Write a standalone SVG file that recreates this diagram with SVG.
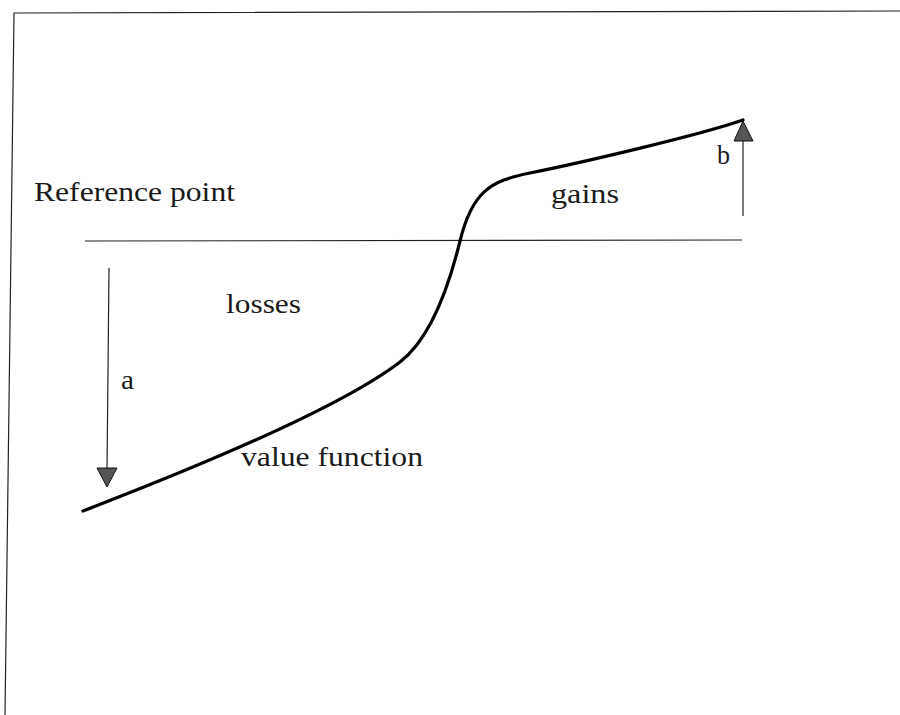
<svg xmlns="http://www.w3.org/2000/svg" width="900" height="715" viewBox="0 0 900 715">
<style>
  .lbl { font-family: "Liberation Serif", "Times New Roman", serif; font-size: 28px; fill: #1a1a1a; }
  .thin { stroke: #222; stroke-width: 1.2; fill: none; }
  .head { fill: #555; stroke: #111; stroke-width: 1; }
</style>
<rect width="900" height="715" fill="#ffffff"/>
<g id="frame">
  <polyline class="thin" points="5,715 14,13 900,11"/>
</g>
<g id="reference-line">
  <line class="thin" x1="85" y1="241" x2="742" y2="240"/>
</g>
<g id="connectors">
  <g id="arrow-a">
    <line class="thin" x1="109" y1="268" x2="107" y2="470"/>
    <polygon class="head" points="97,468 117,468 107,487"/>
  </g>
  <g id="arrow-b">
    <line class="thin" x1="743" y1="216" x2="743" y2="140"/>
    <polygon class="head" points="734,141 753,141 743,121"/>
  </g>
</g>
<g id="value-function-curve">
  <path d="M83,511 C200,466 340,408 400,362 C430,339 448,290 460,241 C472,192 490,181 530,173 C580,163 700,135 743,120" fill="none" stroke="#000" stroke-width="3.2" stroke-linecap="round"/>
</g>
<g id="labels">
  <text id="reference-point" class="lbl" x="34" y="201" textLength="201" lengthAdjust="spacingAndGlyphs">Reference point</text>
  <text id="gains" class="lbl" x="551" y="203" textLength="68" lengthAdjust="spacingAndGlyphs">gains</text>
  <text id="losses" class="lbl" x="226" y="313" textLength="75" lengthAdjust="spacingAndGlyphs">losses</text>
  <text id="value-function" class="lbl" x="241" y="466" textLength="182" lengthAdjust="spacingAndGlyphs">value function</text>
  <text id="label-a" class="lbl" x="121" y="389" textLength="13" lengthAdjust="spacingAndGlyphs">a</text>
  <text id="label-b" class="lbl" x="717" y="164" textLength="13" lengthAdjust="spacingAndGlyphs">b</text>
</g>
</svg>
